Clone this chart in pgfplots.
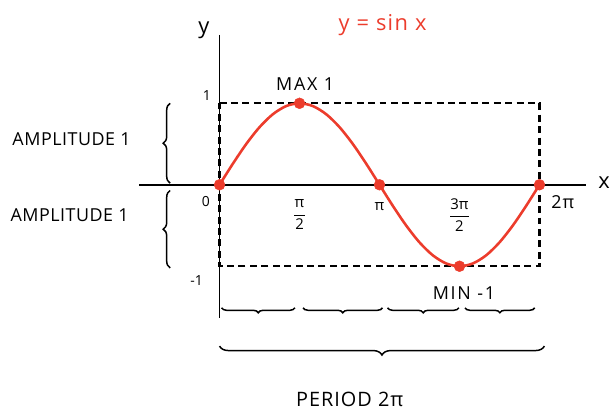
\documentclass[border=0pt]{standalone}
\usepackage{pgfplots}
\pgfplotsset{compat=1.18}
\usepackage{fontspec}
\setmainfont{Open Sans}
\usetikzlibrary{decorations.pathreplacing}
\definecolor{sinred}{RGB}{236,60,44}
% spaced-out capitals for the notes
\newcommand{\notefont}[2]{\fontsize{#1}{#1}\selectfont\addfontfeature{LetterSpace=#2}}

\begin{document}
\begin{tikzpicture}
\begin{axis}[
  width=613pt, height=422pt, scale only axis,
  xmin=-4.312, xmax=7.649, ymin=-2.878, ymax=2.268,
  hide axis, clip=false,
]
% keep the full frame as the picture's extent
\path (rel axis cs:0,0) rectangle (rel axis cs:1,1);

% axes
\draw[line width=1.6pt] (axis cs:0,1.84) -- (axis cs:0,-1.63);
\draw[line width=1.6pt] (axis cs:-1.58,0) -- (axis cs:7.2,0);
\node[font=\fontsize{22}{22}\selectfont] at (axis cs:-0.31,1.90) {y};
\node[font=\fontsize{22}{22}\selectfont] at (axis cs:7.55,0.02) {x};

% dashed amplitude box
\draw[line width=2.4pt, dash pattern=on 7pt off 4.5pt]
  (axis cs:0,1) -- (axis cs:6.2832,1) -- (axis cs:6.2832,-1) -- (axis cs:0,-1) -- cycle;

% y = sin x, sampled every pi/12
\addplot[sinred, line width=2.6pt, smooth] coordinates {
  (0,0) (0.2618,0.2588) (0.5236,0.5) (0.7854,0.7071) (1.0472,0.8660)
  (1.3090,0.9659) (1.5708,1) (1.8326,0.9659) (2.0944,0.8660) (2.3562,0.7071)
  (2.6180,0.5) (2.8798,0.2588) (3.1416,0) (3.4034,-0.2588) (3.6652,-0.5)
  (3.9270,-0.7071) (4.1888,-0.8660) (4.4506,-0.9659) (4.7124,-1) (4.9742,-0.9659)
  (5.2360,-0.8660) (5.4978,-0.7071) (5.7596,-0.5) (6.0214,-0.2588) (6.2832,0)
};
\addplot[only marks, mark=*, mark size=5.5pt, sinred] coordinates {
  (0,0) (1.5708,1) (3.1416,0) (4.7124,-1) (6.2832,0)
};

% tick labels
\node[font=\fontsize{14}{14}\selectfont] at (axis cs:-0.25,1.09) {1};
\node[font=\fontsize{14}{14}\selectfont] at (axis cs:-0.45,-1.17) {-1};
\node[font=\fontsize{14}{14}\selectfont] at (axis cs:-0.27,-0.21) {0};
\node[font=\fontsize{15}{15}\selectfont, align=center] at (axis cs:1.5708,-0.37)
  {π\\[-7pt]\rule{11pt}{1.2pt}\\[-1pt]2};
\node[font=\fontsize{15}{15}\selectfont] at (axis cs:3.1416,-0.27) {π};
\node[font=\fontsize{15}{15}\selectfont, align=center] at (axis cs:4.7124,-0.37)
  {3π\\[-7pt]\rule{19pt}{1.2pt}\\[-1pt]2};
\node[font=\notefont{18}{6}] at (axis cs:6.74,-0.21) {2π};

% annotations
\node[font=\notefont{18}{10}] at (axis cs:1.68,1.24) {MAX 1};
\node[font=\notefont{18}{10}] at (axis cs:4.80,-1.33) {MIN -1};
\node[font=\notefont{22}{6}, text=sinred] at (axis cs:3.2,1.96) {y = sin x};

% amplitude braces
\draw[line width=1.5pt, decorate, decoration={brace, amplitude=7pt}]
  (axis cs:-0.97,0.02) -- (axis cs:-0.97,1.0);
\draw[line width=1.5pt, decorate, decoration={brace, amplitude=7pt}]
  (axis cs:-0.97,-1.02) -- (axis cs:-0.97,-0.07);
\node[font=\notefont{18}{3}] at (axis cs:-2.907,0.56) {AMPLITUDE 1};
\node[font=\notefont{18}{3}] at (axis cs:-2.946,-0.37) {AMPLITUDE 1};

% quarter-period braces
\draw[line width=1.5pt, decorate, decoration={brace, amplitude=5pt}]
  (axis cs:1.48,-1.51) -- (axis cs:0.04,-1.51);
\draw[line width=1.5pt, decorate, decoration={brace, amplitude=5pt}]
  (axis cs:3.20,-1.51) -- (axis cs:1.64,-1.51);
\draw[line width=1.5pt, decorate, decoration={brace, amplitude=5pt}]
  (axis cs:4.70,-1.51) -- (axis cs:3.30,-1.51);
\draw[line width=1.5pt, decorate, decoration={brace, amplitude=5pt}]
  (axis cs:6.19,-1.51) -- (axis cs:4.82,-1.51);
% full-period brace
\draw[line width=1.5pt, decorate, decoration={brace, amplitude=9pt}]
  (axis cs:6.38,-1.98) -- (axis cs:0,-1.98);
\node[font=\notefont{20}{5}] at (axis cs:2.556,-2.634) {PERIOD 2π};
\end{axis}
\end{tikzpicture}
\end{document}
